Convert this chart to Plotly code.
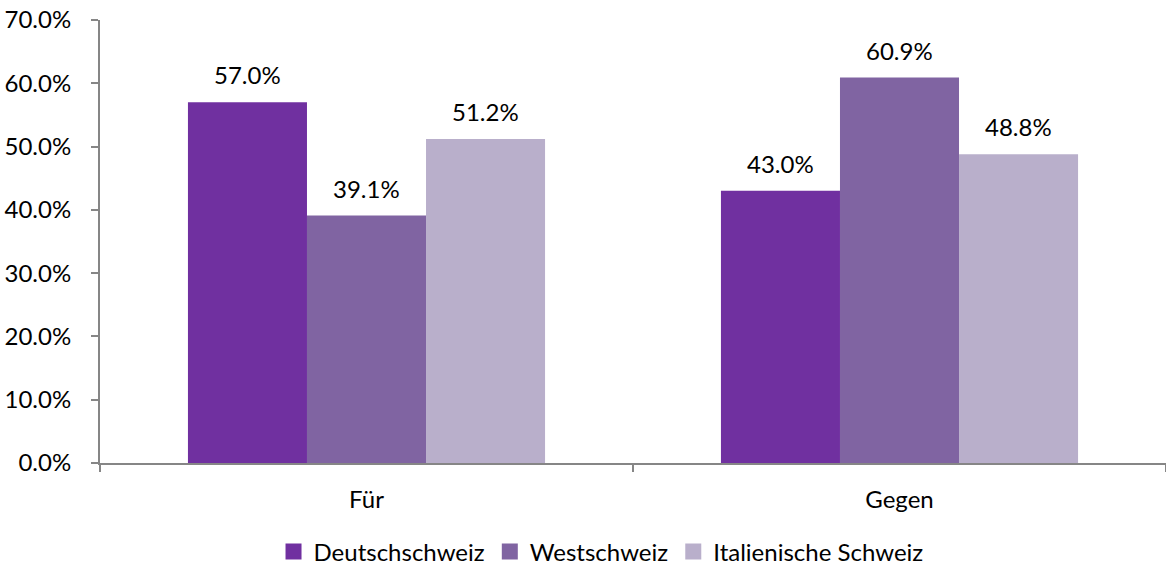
import plotly.graph_objects as go

categories = ["Für", "Gegen"]
series_names = ["Deutschschweiz", "Westschweiz", "Italienische Schweiz"]
deutschschweiz = [0.570, 0.430]
westschweiz = [0.391, 0.609]
italienische = [0.512, 0.488]
colors = ["#7030A0", "#8064A2", "#B9AFCB"]
y_ticks = [0, 0.1, 0.2, 0.3, 0.4, 0.5, 0.6, 0.7]

FONT = "Lato"
FS = 24
W, H = 1166, 565
ML, MR, MT, MB = 100, 0, 20, 102
BARGAP = 0.33

fig = go.Figure()
all_series = [deutschschweiz, westschweiz, italienische]
for name, vals, col in zip(series_names, all_series, colors):
    fig.add_trace(go.Bar(
        x=categories, y=vals, name=name, legendgroup=name, showlegend=False,
        marker=dict(color=col, line=dict(width=0)),
    ))
# legend entries with larger square swatches
for name, col in zip(series_names, colors):
    fig.add_trace(go.Scatter(
        x=[None], y=[None], mode="markers", name=name, legendgroup=name,
        marker=dict(symbol="square", size=16, color=col), showlegend=True,
    ))

# value labels above bars (offset computed from the group layout)
plot_w = W - ML - MR
bar_px = plot_w / len(categories) * (1 - BARGAP) / len(all_series)
for i, vals in enumerate(all_series):
    for cat, v in zip(categories, vals):
        fig.add_annotation(
            x=cat, y=v, text=f"{v*100:.1f}%", showarrow=False,
            xshift=(i - 1) * bar_px, yshift=11, yanchor="bottom",
            font=dict(family=FONT, size=FS, color="#000000"),
        )

fig.update_layout(
    width=W, height=H,
    margin=dict(l=ML, r=MR, t=MT, b=MB, autoexpand=False),
    paper_bgcolor="white", plot_bgcolor="white",
    barmode="group", bargap=BARGAP, bargroupgap=0,
    font=dict(family=FONT, size=FS, color="#000000"),
    showlegend=True,
    legend=dict(orientation="h", x=0.47, xanchor="center", y=-0.15, yanchor="top",
                font=dict(family=FONT, size=FS), itemwidth=30, traceorder="normal"),
    xaxis=dict(showline=True, linecolor="#868686", linewidth=2, ticks="outside",
               tickson="boundaries", ticklen=7, tickcolor="#868686", tickwidth=2,
               showgrid=False, automargin=False, ticklabelstandoff=14,
               tickfont=dict(family=FONT, size=FS)),
    yaxis=dict(range=[0, 0.7], tickvals=y_ticks, tickformat=".1%", showline=True,
               linecolor="#868686", linewidth=2, ticks="outside", ticklen=7,
               tickcolor="#868686", tickwidth=2, showgrid=False, zeroline=False,
               automargin=False, ticklabelstandoff=15,
               tickfont=dict(family=FONT, size=FS)),
)
fig.write_html("out.html", config={"displayModeBar": False},
               post_script="document.body.style.margin='0';document.body.style.overflow='hidden';")
